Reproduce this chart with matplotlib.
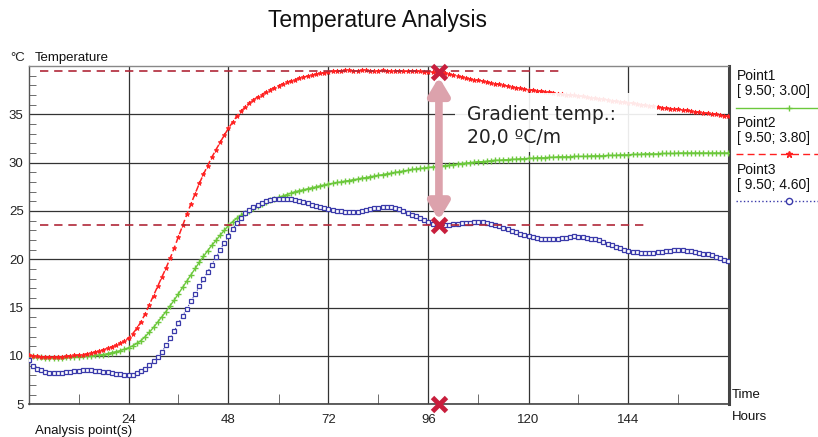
import matplotlib
matplotlib.use("Agg")
import matplotlib.pyplot as plt
from matplotlib.lines import Line2D
from matplotlib.patches import Rectangle
import numpy as np

plt.rcParams['font.family'] = ['Liberation Sans', 'DejaVu Sans']

# ---------------- data (hourly readings, 0..168 h) ----------------
hours = list(range(0, 169))

point2_red = [
    10.1, 10.0, 9.95, 9.9, 9.9, 9.85, 9.85, 9.9, 9.9, 9.95, 10.0, 10.05,
    10.1, 10.15, 10.2, 10.3, 10.4, 10.5, 10.65, 10.8, 10.95, 11.1, 11.3, 11.55,
    11.85, 12.3, 12.85, 13.55, 14.35, 15.3, 16.25, 17.2, 18.15, 19.1, 20.1, 21.2,
    22.35, 23.5, 24.65, 25.75, 26.8, 27.85, 28.8, 29.7, 30.55, 31.35, 32.1, 32.85,
    33.55, 34.2, 34.8, 35.3, 35.75, 36.15, 36.5, 36.8, 37.05, 37.3, 37.55, 37.75,
    37.95, 38.15, 38.3, 38.45, 38.6, 38.75, 38.85, 38.95, 39.05, 39.15, 39.25, 39.3,
    39.4, 39.45, 39.5, 39.5, 39.55, 39.55, 39.5, 39.5, 39.55, 39.55, 39.5, 39.5,
    39.5, 39.55, 39.5, 39.45, 39.5, 39.5, 39.45, 39.45, 39.5, 39.45, 39.45, 39.4,
    39.4, 39.35, 39.35, 39.3, 39.25, 39.15, 39.05, 38.95, 38.85, 38.75, 38.65, 38.55,
    38.5, 38.45, 38.35, 38.25, 38.15, 38.1, 38.0, 37.9, 37.85, 37.75, 37.7, 37.6,
    37.55, 37.5, 37.45, 37.4, 37.35, 37.3, 37.25, 37.15, 37.1, 37.05, 37.0, 36.95,
    36.9, 36.85, 36.75, 36.7, 36.65, 36.6, 36.55, 36.5, 36.4, 36.35, 36.3, 36.25,
    36.2, 36.15, 36.1, 36.0, 35.95, 35.9, 35.85, 35.8, 35.7, 35.65, 35.6, 35.55,
    35.5, 35.45, 35.4, 35.35, 35.25, 35.2, 35.15, 35.1, 35.05, 35.0, 34.9, 34.85, 34.8,
]

point1_green = [
    10.0, 9.95, 9.9, 9.85, 9.8, 9.8, 9.8, 9.8, 9.8, 9.85, 9.85, 9.9,
    9.9, 9.95, 10.0, 10.0, 10.05, 10.1, 10.15, 10.25, 10.35, 10.45, 10.55, 10.7,
    10.85, 11.05, 11.3, 11.6, 12.0, 12.45, 12.95, 13.5, 14.05, 14.6, 15.2, 15.8,
    16.45, 17.1, 17.75, 18.4, 19.05, 19.7, 20.3, 20.9, 21.45, 21.95, 22.5, 23.0,
    23.5, 23.9, 24.25, 24.55, 24.8, 25.05, 25.3, 25.5, 25.7, 25.9, 26.1, 26.25,
    26.4, 26.55, 26.7, 26.85, 27.0, 27.1, 27.2, 27.3, 27.4, 27.5, 27.6, 27.7,
    27.8, 27.85, 27.95, 28.0, 28.1, 28.15, 28.25, 28.3, 28.4, 28.45, 28.55, 28.6,
    28.7, 28.75, 28.85, 28.9, 29.0, 29.05, 29.15, 29.2, 29.3, 29.35, 29.4, 29.45,
    29.5, 29.55, 29.6, 29.65, 29.7, 29.75, 29.8, 29.85, 29.9, 29.95, 30.0, 30.05,
    30.1, 30.1, 30.15, 30.2, 30.25, 30.25, 30.3, 30.3, 30.35, 30.35, 30.4, 30.4,
    30.45, 30.45, 30.5, 30.5, 30.5, 30.55, 30.55, 30.6, 30.6, 30.6, 30.6, 30.65,
    30.65, 30.65, 30.65, 30.7, 30.7, 30.7, 30.7, 30.75, 30.75, 30.75, 30.8, 30.8,
    30.8, 30.85, 30.85, 30.85, 30.9, 30.9, 30.9, 30.9, 30.95, 30.95, 30.95, 30.95,
    31.0, 31.0, 31.0, 31.0, 31.0, 31.0, 31.0, 31.0, 31.0, 31.0, 31.0, 31.0, 31.0,
]

point3_blue = [
    9.6, 9.0, 8.7, 8.5, 8.35, 8.25, 8.2, 8.2, 8.25, 8.3, 8.35, 8.4,
    8.45, 8.5, 8.5, 8.5, 8.45, 8.4, 8.35, 8.3, 8.2, 8.15, 8.1, 8.05,
    8.0, 8.05, 8.2, 8.4, 8.7, 9.05, 9.45, 9.9, 10.4, 11.1, 11.85, 12.6,
    13.4, 14.15, 14.9, 15.65, 16.4, 17.2, 17.95, 18.7, 19.45, 20.2, 20.95, 21.7,
    22.45, 23.15, 23.75, 24.3, 24.75, 25.1, 25.4, 25.65, 25.85, 26.0, 26.1, 26.2,
    26.25, 26.25, 26.25, 26.2, 26.1, 26.0, 25.9, 25.8, 25.65, 25.5, 25.4, 25.3,
    25.2, 25.1, 25.0, 24.95, 24.9, 24.85, 24.85, 24.9, 25.0, 25.1, 25.2, 25.3,
    25.35, 25.4, 25.45, 25.45, 25.35, 25.2, 25.0, 24.8, 24.6, 24.45, 24.3, 24.05,
    23.85, 23.65, 23.5, 23.5, 23.55, 23.6, 23.65, 23.7, 23.75, 23.8, 23.8, 23.85,
    23.85, 23.85, 23.75, 23.65, 23.5, 23.4, 23.25, 23.1, 22.95, 22.8, 22.65, 22.55,
    22.45, 22.3, 22.2, 22.15, 22.15, 22.15, 22.15, 22.15, 22.2, 22.25, 22.35, 22.4,
    22.35, 22.3, 22.25, 22.15, 22.05, 21.95, 21.8, 21.6, 21.45, 21.3, 21.15, 21.0,
    20.9, 20.8, 20.75, 20.7, 20.7, 20.7, 20.7, 20.75, 20.8, 20.85, 20.9, 20.95,
    20.95, 20.95, 20.9, 20.85, 20.8, 20.7, 20.6, 20.5, 20.4, 20.25, 20.1, 19.95, 19.8,
]

legend_names = ["Point1", "Point2", "Point3"]
legend_coords = ["[ 9.50; 3.00]", "[ 9.50; 3.80]", "[ 9.50; 4.60]"]

ref_high = 39.45          # upper dashed reference
ref_low = 23.55           # lower dashed reference
high_span = (2.7, 127.6)
low_span = (2.7, 148.7)
cursor_hour = 98.5
cursor_vals = [39.4, 23.5, 5.0]
gradient_lines = ["Gradient temp.:", "20,0 ºC/m"]

x_major = [24, 48, 72, 96, 120, 144]
x_minor = [12, 36, 60, 84, 108, 132, 156]
y_major = [5, 10, 15, 20, 25, 30, 35]

# ---------------- figure ----------------
W, H = 818, 437
fig = plt.figure(figsize=(W / 100, H / 100), dpi=100)
fig.patch.set_facecolor('white')

def fx(px):
    return px / W

def fy(py):
    return 1 - py / H

ax_l, ax_r, ax_t, ax_b = 28.5, 728.5, 66.0, 404.3
ax = fig.add_axes([fx(ax_l), fy(ax_b), fx(ax_r - ax_l), (ax_b - ax_t) / H])
ax.set_xlim(0, 168)
ax.set_ylim(5, 40)

ax.set_xticks(x_major)
ax.set_xticks(x_minor, minor=True)
ax.set_yticks(y_major)
ax.set_yticks(np.arange(5, 40, 1), minor=True)
ax.tick_params(axis='both', which='major', length=0, labelsize=9.5,
               labelcolor='#222222')
ax.tick_params(axis='x', which='major', pad=7)
ax.tick_params(axis='y', which='major', pad=3.5)
ax.tick_params(axis='x', which='minor', direction='in', length=7, color='#555555')
ax.tick_params(axis='y', which='minor', direction='in', length=5, color='#555555')
ax.grid(True, which='major', color='#333333', lw=0.9)
ax.set_axisbelow(True)

for side, (c, w) in {'left': ('#555555', 1.0), 'bottom': ('#444444', 1.2),
                     'right': ('#444444', 2.2), 'top': ('#888888', 1.0)}.items():
    ax.spines[side].set_color(c)
    ax.spines[side].set_linewidth(w)

# series
green_c = '#6cc83c'
red_c = '#ff2020'
blue_c = '#3a3aaa'
ax.plot(hours, point1_green, color=green_c, lw=1.0, marker='+', ms=3.8,
        mew=1.0, zorder=3)
ax.plot(hours, point3_blue, color=blue_c, lw=0.8, ls=':', marker='s', ms=3.3,
        mfc='white', mec=blue_c, mew=0.9, zorder=3)
ax.plot(hours, point2_red, color=red_c, lw=1.1, ls=(0, (4, 2)), marker='*',
        ms=3.5, mew=0.6, zorder=4)

# dashed reference lines
ax.plot(list(high_span), [ref_high, ref_high], color='#b02838', lw=1.2,
        ls=(0, (5, 3.5)), zorder=5)
ax.plot(list(low_span), [ref_low, ref_low], color='#b02838', lw=1.2,
        ls=(0, (5, 3.5)), zorder=5)

# gradient text box
box = Rectangle((102.4, 31.15), 48.4, 6.05, facecolor='white', edgecolor='none',
                alpha=0.9, zorder=6)
ax.add_patch(box)
ax.text(105.2, 34.41, gradient_lines[0], fontsize=13.5, family='DejaVu Sans',
        color='#222222', va='baseline', ha='left', zorder=7)
ax.text(105.2, 32.0, gradient_lines[1], fontsize=13.5, family='DejaVu Sans',
        color='#222222', va='baseline', ha='left', zorder=7)

# double arrow between cursors
ax.annotate('', xy=(cursor_hour, cursor_vals[1] + 0.55),
            xytext=(cursor_hour, cursor_vals[0] - 0.55),
            arrowprops=dict(arrowstyle='<|-|>,head_length=0.55,head_width=0.33',
                            lw=5.5, color='#dca2ac', mutation_scale=18,
                            shrinkA=0, shrinkB=0),
            zorder=7)

# cursor markers
ax.plot([cursor_hour] * len(cursor_vals), cursor_vals, ls='none', marker='x',
        ms=10, mew=3.5, color='#c81e3c', zorder=8, clip_on=False)

# ---------------- text ----------------
fig.text(fx(W / 2 - 31), fy(20), "Temperature Analysis", fontsize=16.5,
         ha='center', va='center', color='#111111')
fig.text(fx(10), fy(61), "°C", fontsize=9.5, ha='left', va='baseline',
         color='#222222')
fig.text(fx(35), fy(61), "Temperature", fontsize=9.5, ha='left',
         va='baseline', color='#111111')
fig.text(fx(732), fy(398), "Time", fontsize=9.5, ha='left', va='baseline',
         color='#111111')
fig.text(fx(732), fy(420), "Hours", fontsize=9.5, ha='left', va='baseline',
         color='#111111')
fig.text(fx(35), fy(434), "Analysis point(s)", fontsize=9.5, ha='left',
         va='baseline', color='#111111')

# ---------------- legend ----------------
leg_styles = [
    dict(color=green_c, ls='-', marker='+', mfc=green_c, mec=green_c),
    dict(color=red_c, ls=(0, (5, 3)), marker='*', mfc=red_c, mec=red_c),
    dict(color=blue_c, ls=':', marker='o', mfc='white', mec=blue_c),
]
leg_y0 = 80
step = 46.8
for i in range(3):
    yb = leg_y0 + i * step
    fig.text(fx(737), fy(yb), legend_names[i], fontsize=10, ha='left',
             va='baseline', color='#111111')
    fig.text(fx(737), fy(yb + 15), legend_coords[i], fontsize=10, ha='left',
             va='baseline', color='#111111')
    ly = yb + 27.5
    st = leg_styles[i]
    fig.add_artist(Line2D([fx(736), fx(818)], [fy(ly), fy(ly)],
                          transform=fig.transFigure, color=st['color'],
                          ls=st['ls'], lw=1.0))
    fig.add_artist(Line2D([fx(789)], [fy(ly)], transform=fig.transFigure,
                          ls='none', marker=st['marker'], ms=4.5,
                          mfc=st['mfc'], mec=st['mec'], mew=1.0))

fig.savefig('out.png', dpi=100, facecolor='white')
